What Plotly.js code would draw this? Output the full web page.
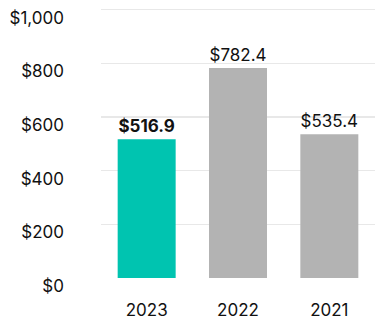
<!DOCTYPE html>
<html>
<head>
<meta charset="utf-8">
<script src="https://cdn.plot.ly/plotly-3.0.1.min.js"></script>
<style>html,body{margin:0;padding:0;background:#fff;}#chart{width:384px;height:326px;}</style>
</head>
<body>
<div id="chart"></div>
<script>
const years = ['2023', '2022', '2021'];
const values = [516.9, 782.4, 535.4];
const barColors = ['#00C4B0', '#B3B3B3', '#B3B3B3'];
const tickVals = [0, 200, 400, 600, 800, 1000];
const tickText = ['$0', '$200', '$400', '$600', '$800', '$1,000'];

const labels = values.map((v, i) => i === 0 ? '<b>$' + v.toFixed(1) + '</b>' : '$' + v.toFixed(1));

const trace = {
  type: 'bar',
  x: years,
  y: values,
  marker: {color: barColors},
  text: labels,
  textposition: 'outside',
  textfont: {family: 'Inter, sans-serif', size: 17, color: '#111'},
  cliponaxis: false,
  hoverinfo: 'none'
};

const layout = {
  width: 384, height: 326,
  margin: {l: 101, r: 9, t: 8, b: 47.5},
  paper_bgcolor: '#fff', plot_bgcolor: '#fff',
  showlegend: false,
  bargap: 0.365,
  font: {family: 'Inter, sans-serif', size: 17, color: '#111'},
  xaxis: {
    type: 'category',
    showgrid: false, zeroline: false, showline: false,
    ticks: '', ticklabelstandoff: 20,
    tickfont: {family: 'Inter, sans-serif', size: 17, color: '#111'}
  },
  yaxis: {
    range: [0, 1006],
    tickvals: tickVals, ticktext: tickText,
    showgrid: true, gridcolor: '#E8E8E8', gridwidth: 1.5,
    zeroline: false, showline: false, ticks: '',
    ticklabelstandoff: 36, ticklabelshift: 8,
    tickfont: {family: 'Inter, sans-serif', size: 17, color: '#111'}
  }
};

Plotly.newPlot('chart', [trace], layout, {displayModeBar: false, staticPlot: true});
</script>
</body>
</html>
